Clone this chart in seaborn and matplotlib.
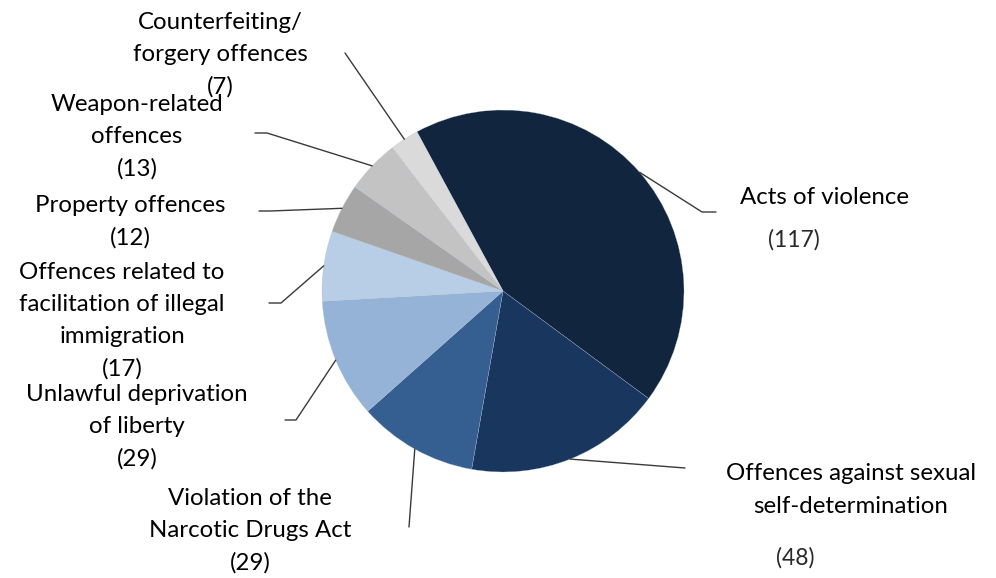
import numpy as np
import matplotlib.pyplot as plt
import seaborn as sns

# Data
categories = ['Acts of violence', 'Offences against sexual\nself-determination',
              'Violation of the\nNarcotic Drugs Act', 'Unlawful deprivation\nof liberty',
              'Offences related to\nfacilitation of illegal\nimmigration', 'Property offences',
              'Weapon-related\noffences', 'Counterfeiting/\nforgery offences']
counts = [117, 48, 29, 29, 17, 12, 13, 7]
colors = ['#11253f', '#18365e', '#355f91', '#94b3d7', '#b8cde6', '#a6a6a6', '#c3c3c3', '#dadada']

sns.set_style('white')
plt.rcParams['font.family'] = ['Lato', 'DejaVu Sans']

W, H = 996, 578
fig = plt.figure(figsize=(W / 100, H / 100), dpi=100)
ax = fig.add_axes([0, 0, 1, 1])

cx, cy, R = 503, H - 291, 181
start = 118.4
wedges, _ = ax.pie(counts, colors=colors, startangle=start, counterclock=False,
                   radius=R, center=(cx, cy),
                   wedgeprops=dict(linewidth=0.2, edgecolor='#b0c0d4'))
ax.set_xlim(0, W)
ax.set_ylim(0, H)
ax.set_aspect('equal')
ax.axis('off')

# label layout (pixel coords, y from top): leader bend, leader end, text pos
layout = [
    ((702, 212), (716, 212), (825, 198)),
    ((685, 468), (685, 468), (851, 490)),
    ((409, 527), (409, 527), (250, 531)),
    ((296, 420), (285, 420), (137, 427)),
    ((281, 303), (269, 303), (122, 321)),
    ((270, 211), (259, 211), (130, 222)),
    ((267, 133), (255, 133), (137, 137)),
    ((345, 53), (345, 53), (220, 55)),
]

total = sum(counts)
ang = start
for i, n in enumerate(counts):
    span = 360 * n / total
    mid = np.deg2rad(ang - span / 2)
    ang -= span
    sx, sy = cx + R * np.cos(mid), cy + R * np.sin(mid)
    (bx, by), (ex, ey), _ = layout[i]
    ax.plot([sx, bx, ex], [sy, H - by, H - ey], color='#3a3a3a', lw=1.0)

# text
fs = 17.3
for i, lab in enumerate(categories):
    tx, ty = layout[i][2]
    if i == 0:
        ax.text(tx, H - ty, lab, ha='center', va='center', fontsize=fs, color='black')
        ax.text(794, H - 240, f'({counts[i]})', ha='center', va='center',
                fontsize=16.5, color='#2a2a2a')
    elif i == 1:
        ax.text(tx, H - ty, lab, ha='center', va='center', fontsize=fs, color='black',
                linespacing=1.65)
        ax.text(795, H - 558, f'({counts[i]})', ha='center', va='center',
                fontsize=16.5, color='#2a2a2a')
    else:
        ax.text(tx, H - ty, f'{lab}\n({counts[i]})', ha='center', va='center',
                fontsize=fs, color='black', linespacing=1.65)

fig.savefig('out.png', dpi=100)
